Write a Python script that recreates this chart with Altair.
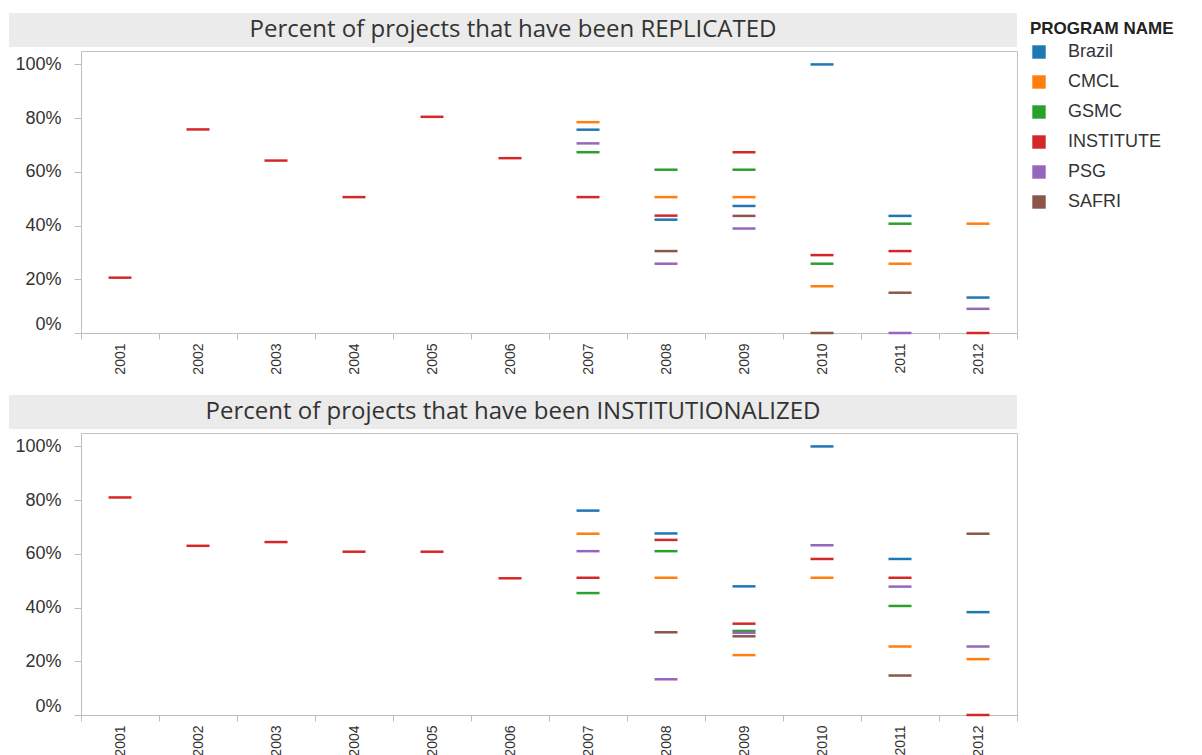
import altair as alt
import pandas as pd

YEARS = ["2001", "2002", "2003", "2004", "2005", "2006",
         "2007", "2008", "2009", "2010", "2011", "2012"]
PROGRAMS = ["Brazil", "CMCL", "GSMC", "INSTITUTE", "PSG", "SAFRI"]
COLORS = ["#1f77b4", "#ff7f0e", "#2ca02c", "#d62728", "#9467bd", "#8c564b"]

TITLE_REPL = "Percent of projects that have been REPLICATED"
TITLE_INST = "Percent of projects that have been INSTITUTIONALIZED"

# Percent of projects REPLICATED, per program, one value per year (None = no data)
REPL_BRAZIL    = [None, None, None, None, None, None, 75.7, 42.2, 47.3, 100.0, 43.6, 13.2]
REPL_CMCL      = [None, None, None, None, None, None, 78.5, 50.6, 50.6, 17.4, 25.8, 40.7]
REPL_GSMC      = [None, None, None, None, None, None, 67.3, 60.8, 60.8, 25.8, 40.7, None]
REPL_INSTITUTE = [20.6, 75.8, 64.2, 50.6, 80.5, 65.1, 50.6, 43.7, 67.3, 29.0, 30.5, 0.0]
REPL_PSG       = [None, None, None, None, None, None, 70.6, 25.8, 38.9, None, 0.0, 9.0]
REPL_SAFRI     = [None, None, None, None, None, None, None, 30.5, 43.6, 0.0, 15.0, None]

# Percent of projects INSTITUTIONALIZED
INST_BRAZIL    = [None, None, None, None, None, None, 76.1, 67.6, 47.9, 100.0, 58.1, 38.3]
INST_CMCL      = [None, None, None, None, None, None, 67.5, 51.1, 22.3, 51.1, 25.5, 20.8]
INST_GSMC      = [None, None, None, None, None, None, 45.4, 61.0, 31.3, None, 40.6, None]
INST_INSTITUTE = [81.0, 63.0, 64.4, 60.8, 60.8, 50.9, 51.1, 65.2, 34.0, 58.1, 51.1, 0.0]
INST_PSG       = [None, None, None, None, None, None, 61.0, 13.3, 30.6, 63.2, 47.8, 25.5]
INST_SAFRI     = [None, None, None, None, None, None, None, 30.8, 29.3, None, 14.7, 67.5]

Y_TICKS = [0, 20, 40, 60, 80, 100]


def make_df(series):
    rows = []
    for prog, vals in zip(PROGRAMS, series):
        for yr, v in zip(YEARS, vals):
            if v is not None:
                rows.append({"Year": yr, "Program": prog, "Value": v})
    return pd.DataFrame(rows)


df_repl = make_df([REPL_BRAZIL, REPL_CMCL, REPL_GSMC, REPL_INSTITUTE, REPL_PSG, REPL_SAFRI])
df_inst = make_df([INST_BRAZIL, INST_CMCL, INST_GSMC, INST_INSTITUTE, INST_PSG, INST_SAFRI])

W = 936
H = 282
FONT = "Liberation Sans"


def panel(df, title):
    ticks = alt.Chart(df).mark_tick(thickness=2.5, size=23, opacity=1).encode(
        x=alt.X("Year:O", sort=YEARS,
                scale=alt.Scale(domain=YEARS, paddingInner=0, paddingOuter=0),
                axis=alt.Axis(title=None, labelAngle=-90, tickBand="extent",
                              labelFontSize=14, labelFont=FONT, labelColor="#333333",
                              tickSize=6, labelPadding=4, domainColor="#bdbdbd",
                              tickColor="#bdbdbd", grid=False)),
        y=alt.Y("Value:Q",
                scale=alt.Scale(domain=[0, 105], nice=False),
                axis=alt.Axis(title=None, values=Y_TICKS,
                              labelExpr="datum.value + '%'",
                              labelFontSize=18, labelFont=FONT, labelColor="#333333",
                              labelFlush=True, tickSize=7, labelPadding=13,
                              domainColor="#bdbdbd", tickColor="#bdbdbd", grid=False)),
        color=alt.Color("Program:N",
                        scale=alt.Scale(domain=PROGRAMS, range=COLORS),
                        legend=alt.Legend(title="PROGRAM NAME")),
    )
    tdf = pd.DataFrame({"t": [title]})
    band = alt.Chart(tdf).mark_rect(color="#ebebeb").encode(
        x=alt.value(-72), x2=alt.value(W), y=alt.value(-38), y2=alt.value(-4)
    )
    txt = alt.Chart(tdf).mark_text(font="Open Sans", fontSize=24, color="#333333",
                                   align="center", baseline="middle").encode(
        text="t:N", x=alt.value((W - 72) / 2), y=alt.value(-21)
    )
    return alt.layer(band, txt, ticks).properties(width=W, height=H)


chart = alt.vconcat(
    panel(df_repl, TITLE_REPL),
    panel(df_inst, TITLE_INST),
    spacing=19,
).properties(
    padding={"left": 0, "top": 4, "right": 4, "bottom": 0},
    background="white",
).configure_view(
    stroke="#c4c4c4", strokeWidth=1
).configure_legend(
    orient="none", legendX=943, legendY=-36, padding=6,
    titleFont=FONT, titleFontSize=17, titleFontWeight="bold", titleColor="#222222",
    titlePadding=5,
    labelFont=FONT, labelFontSize=18, labelColor="#333333", labelOffset=20,
    symbolType="square", symbolSize=180, symbolStrokeWidth=0, symbolOpacity=1,
    rowPadding=12,
)

chart.save("out.html", embed_options={"renderer": "svg", "actions": False})
